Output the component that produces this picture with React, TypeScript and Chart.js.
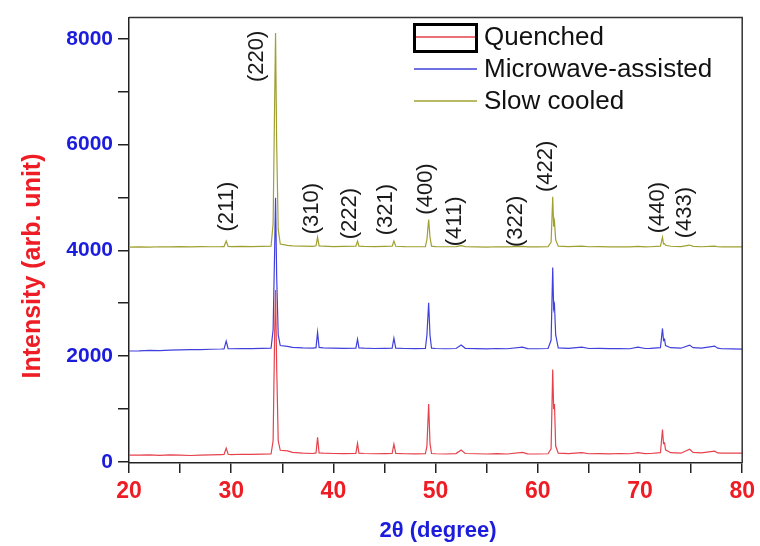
import React, { useEffect, useRef } from "react";
import { Chart, registerables } from "chart.js";

Chart.register(...registerables);

// ---------------- data ----------------
const seriesLabels = ["Quenched", "Microwave-assisted", "Slow cooled"];

const quenched: number[][] = [
  [20, 130], [21, 128], [22, 135], [23, 125], [24, 132], [25, 130], [26, 122], [27, 128], [28, 135], [29, 140],
  [29.3, 142], [29.51, 260], [29.7, 145], [30, 140], [31, 145], [32, 142], [33, 148], [33.9, 150],
  [34.1, 400], [34.25, 2400], [34.34, 3250], [34.45, 1800], [34.6, 400], [34.8, 220], [35.5, 210], [36, 180],
  [37, 165], [38, 160], [38.3, 170], [38.45, 465], [38.6, 170], [39, 165], [40, 160], [41, 158],
  [42.2, 162], [42.36, 355], [42.5, 165], [43, 160], [44, 155], [45, 158], [45.75, 162], [45.92, 335],
  [46.1, 162], [47, 155], [48, 152], [49, 155], [49.15, 300], [49.32, 1095], [49.45, 350], [49.6, 160],
  [50, 155], [51, 150], [52, 158], [52.5, 225], [52.9, 160], [54, 155], [55, 150], [56, 158], [57, 150],
  [58.5, 180], [59, 152], [60, 150], [61, 155], [61.3, 250], [61.46, 1745], [61.55, 1000], [61.63, 1095],
  [61.75, 300], [62, 165], [63, 158], [64.3, 175], [65, 155], [66, 158], [67, 152], [68, 160], [69, 155],
  [69.8, 175], [70.5, 158], [71, 160], [72, 175], [72.2, 612], [72.3, 350], [72.4, 360], [72.5, 230],
  [73, 175], [74, 165], [74.85, 241], [75.2, 180], [76, 170], [77.3, 204], [77.6, 170], [78, 168],
  [79, 165], [80, 167],
];

const microwave: number[][] = [
  [20, 2097], [21, 2100], [22, 2108], [23, 2105], [24, 2115], [25, 2118], [26, 2122], [27, 2125], [28, 2130],
  [29, 2135], [29.3, 2138], [29.51, 2283], [29.7, 2140], [30, 2140], [31, 2145], [32, 2142], [33, 2148],
  [33.9, 2150], [34.1, 2500], [34.25, 4000], [34.34, 4993], [34.45, 3500], [34.6, 2400], [34.8, 2200],
  [35.5, 2185], [36, 2165], [37, 2155], [38, 2150], [38.3, 2160], [38.45, 2450], [38.6, 2165], [39, 2155],
  [40, 2150], [41, 2148], [42.2, 2150], [42.36, 2320], [42.5, 2155], [43, 2150], [44, 2145], [45, 2148],
  [45.75, 2150], [45.92, 2339], [46.1, 2150], [47, 2145], [48, 2142], [49, 2145], [49.15, 2400],
  [49.32, 3007], [49.45, 2400], [49.6, 2150], [50, 2145], [51, 2140], [52, 2145], [52.5, 2209], [52.9, 2148],
  [54, 2142], [55, 2138], [56, 2145], [57, 2140], [58.5, 2170], [59, 2142], [60, 2140], [61, 2145],
  [61.3, 2300], [61.46, 3675], [61.55, 2900], [61.63, 2970], [61.75, 2400], [62, 2155], [63, 2148],
  [64.3, 2170], [65, 2145], [66, 2148], [67, 2142], [68, 2145], [69, 2140], [69.8, 2170], [70.5, 2145],
  [71, 2148], [72, 2160], [72.2, 2524], [72.3, 2300], [72.4, 2320], [72.5, 2200], [73, 2160], [74, 2150],
  [74.85, 2209], [75.2, 2160], [76, 2150], [77.3, 2190], [77.6, 2150], [78, 2140], [79, 2136], [80, 2134],
];

const slowCooled: number[][] = [
  [20, 4062], [21, 4065], [22, 4060], [23, 4068], [24, 4064], [25, 4070], [26, 4066], [27, 4072], [28, 4068],
  [29, 4070], [29.3, 4072], [29.51, 4176], [29.7, 4074], [30, 4070], [31, 4075], [32, 4070], [33, 4076],
  [33.9, 4080], [34.1, 4500], [34.25, 6800], [34.34, 8110], [34.45, 6000], [34.6, 4400], [34.8, 4120],
  [35.5, 4095], [36, 4085], [37, 4078], [38, 4075], [38.3, 4085], [38.45, 4250], [38.6, 4085], [39, 4078],
  [40, 4072], [41, 4076], [42.2, 4078], [42.36, 4176], [42.5, 4080], [43, 4074], [44, 4070], [45, 4075],
  [45.75, 4078], [45.92, 4176], [46.1, 4078], [47, 4070], [48, 4068], [49, 4072], [49.15, 4200],
  [49.32, 4584], [49.45, 4250], [49.6, 4080], [50, 4072], [51, 4068], [52, 4070], [52.5, 4090], [52.9, 4070],
  [54, 4066], [55, 4062], [56, 4068], [57, 4064], [58.5, 4075], [59, 4065], [60, 4066], [61, 4070],
  [61.3, 4150], [61.46, 5011], [61.55, 4450], [61.63, 4547], [61.75, 4200], [62, 4080], [63, 4072],
  [64.3, 4080], [65, 4068], [66, 4070], [67, 4066], [68, 4068], [69, 4065], [69.8, 4075], [70.5, 4066],
  [71, 4068], [72, 4080], [72.2, 4250], [72.3, 4120], [72.4, 4125], [72.5, 4095], [73, 4078], [74, 4070],
  [74.85, 4100], [75.2, 4075], [76, 4068], [77.3, 4080], [77.6, 4068], [78, 4065], [79, 4064], [80, 4065],
];

// peak (hkl) labels and where they sit (2θ, intensity)
const peakLabels = ["(211)", "(220)", "(310)", "(222)", "(321)", "(400)", "(411)", "(322)", "(422)", "(440)", "(433)"];
const peakLabelX = [29.51, 32.43, 37.77, 41.55, 45.05, 48.93, 51.84, 57.77, 60.68, 71.65, 74.27];
const peakLabelY = [4826, 7666, 4789, 4696, 4770, 5160, 4548, 4548, 5587, 4807, 4714];

const xMajorTicks = [20, 30, 40, 50, 60, 70, 80];
const xMinorTicks = [25, 35, 45, 55, 65, 75];
const yMajorTicks = [0, 2000, 4000, 6000, 8000];
const yMinorTicks = [1000, 3000, 5000, 7000];

const xTitle = "2θ (degree)";
const yTitle = "Intensity (arb. unit)";

// ---------------- styles ----------------
const FONT = '"Liberation Sans", Arial, Helvetica, sans-serif';
const seriesColors = ["#e5424c", "#4040dc", "#a0a032"];
const RED = "#ee1c24";
const BLUE = "#1c1cdc";

const overlayPlugin = {
  id: "overlay",
  afterDraw(chart: any) {
    const { ctx, chartArea, scales } = chart;
    const { left, right, top, bottom } = chartArea;
    ctx.save();
    // top & right frame
    ctx.strokeStyle = "#333";
    ctx.lineWidth = 1.5;
    ctx.beginPath();
    ctx.moveTo(left, top);
    ctx.lineTo(right, top);
    ctx.lineTo(right, bottom);
    ctx.stroke();

    // peak labels
    ctx.fillStyle = "#1a1a1a";
    ctx.font = `22px ${FONT}`;
    ctx.textAlign = "center";
    ctx.textBaseline = "middle";
    peakLabels.forEach((t, i) => {
      const px = scales.x.getPixelForValue(peakLabelX[i]);
      const py = scales.y.getPixelForValue(peakLabelY[i]);
      ctx.save();
      ctx.translate(px, py);
      ctx.rotate(-Math.PI / 2);
      ctx.fillText(t, 0, 1);
      ctx.restore();
    });

    // legend
    const rowY = [37, 69, 101];
    chart.data.datasets.forEach((ds: any, i: number) => {
      ctx.strokeStyle = ds.borderColor;
      ctx.lineWidth = 1.3;
      ctx.beginPath();
      ctx.moveTo(414, rowY[i]);
      ctx.lineTo(477, rowY[i]);
      ctx.stroke();
      ctx.fillStyle = "#111";
      ctx.font = `26px ${FONT}`;
      ctx.textAlign = "left";
      ctx.textBaseline = "middle";
      ctx.fillText(ds.label, 484, rowY[i] + 1);
    });
    ctx.strokeStyle = "#000";
    ctx.lineWidth = 3;
    ctx.strokeRect(414.5, 24.5, 62, 27);

    // axis titles
    ctx.fillStyle = BLUE;
    ctx.font = `bold 22px ${FONT}`;
    ctx.textAlign = "center";
    ctx.textBaseline = "middle";
    ctx.fillText(xTitle, 438, 531);

    ctx.save();
    ctx.translate(33, 266);
    ctx.rotate(-Math.PI / 2);
    ctx.fillStyle = RED;
    ctx.font = `bold 25px ${FONT}`;
    ctx.fillText(yTitle, 0, 0);
    ctx.restore();

    ctx.restore();
  },
};

export default function App() {
  const ref = useRef<HTMLCanvasElement | null>(null);

  useEffect(() => {
    if (!ref.current) return;
    const series = [quenched, microwave, slowCooled];
    const chart = new Chart(ref.current, {
      type: "line",
      data: {
        datasets: series.map((d, i) => ({
          label: seriesLabels[i],
          data: d as any,
          borderColor: seriesColors[i],
          backgroundColor: seriesColors[i],
          borderWidth: 1.2,
          pointRadius: 0,
          tension: 0,
          fill: false,
        })),
      },
      options: {
        animation: false,
        responsive: false,
        events: [],
        layout: { padding: { top: 10, right: 13, left: 0, bottom: 0 } },
        plugins: { legend: { display: false }, tooltip: { enabled: false } },
        scales: {
          x: {
            type: "linear",
            min: 20,
            max: 80,
            afterBuildTicks: (s: any) => {
              s.ticks = [...xMajorTicks, ...xMinorTicks].sort((a, b) => a - b).map((v) => ({ value: v }));
            },
            afterFit: (s: any) => {
              s.height = 83;
            },
            ticks: {
              autoSkip: false,
              maxRotation: 0,
              padding: 5,
              color: RED,
              font: { family: FONT, size: 23, weight: "bold" },
              callback: (v: any) => (xMajorTicks.includes(Number(v)) ? String(v) : ""),
            },
            grid: { drawOnChartArea: false, drawTicks: true, tickLength: 10, color: "#222", lineWidth: 1.5 },
            border: { display: true, color: "#222", width: 1.5 },
          },
          y: {
            type: "linear",
            min: -20,
            max: 8400,
            afterBuildTicks: (s: any) => {
              s.ticks = [...yMajorTicks, ...yMinorTicks].sort((a, b) => a - b).map((v) => ({ value: v }));
            },
            afterFit: (s: any) => {
              s.width = 129;
            },
            ticks: {
              autoSkip: false,
              padding: 5,
              color: BLUE,
              font: { family: FONT, size: 21, weight: "bold" },
              callback: (v: any) => (yMajorTicks.includes(Number(v)) ? String(v) : ""),
            },
            grid: { drawOnChartArea: false, drawTicks: true, tickLength: 11, color: "#222", lineWidth: 1.5 },
            border: { display: true, color: "#222", width: 1.5 },
          },
        },
      },
      plugins: [overlayPlugin],
    });
    return () => chart.destroy();
  }, []);

  return (
    <div style={{ position: "absolute", left: 0, top: 0, width: 760, height: 546, background: "#fff" }}>
      <canvas ref={ref} width={760} height={546} />
    </div>
  );
}
